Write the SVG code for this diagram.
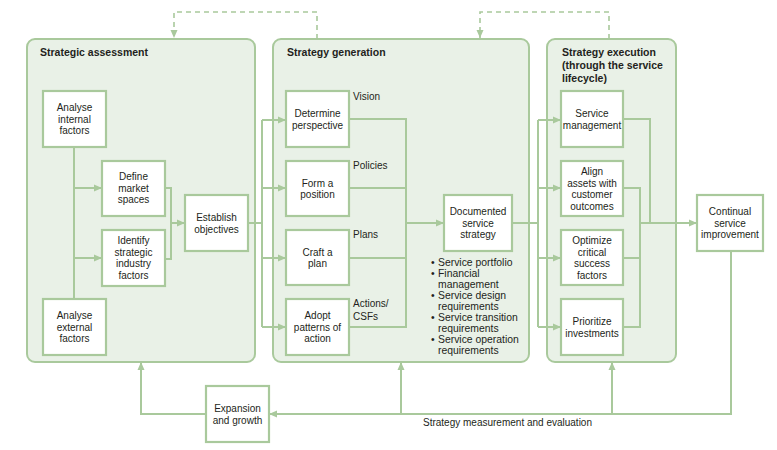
<svg xmlns="http://www.w3.org/2000/svg" width="777" height="450" viewBox="0 0 777 450">
<defs>
<style>
.panel{fill:#e9f1e7;stroke:#a9c99c;stroke-width:2}
.box{fill:#ffffff;stroke:#a9c99c;stroke-width:2.2}
.ln{fill:none;stroke:#a9c99c;stroke-width:2}
.dash{fill:none;stroke:#a9c99c;stroke-width:1.6;stroke-dasharray:5 4}
text{font-family:"Liberation Sans",Arial,sans-serif;font-size:10px;fill:#231f20}
.t{text-anchor:middle}
.b{font-size:10.4px}
.title{font-weight:bold;font-size:10.5px}
</style>
<marker id="ah" viewBox="0 0 8 8" refX="8" refY="4" markerWidth="8" markerHeight="8" markerUnits="userSpaceOnUse" orient="auto">
<path d="M0,0.5 L8,4 L0,7.5 Z" fill="#a9c99c"/>
</marker>
</defs>
<rect width="777" height="450" fill="#ffffff"/>

<g id="panel-assessment">
<rect class="panel" x="27" y="39" width="228" height="323" rx="8"/>
<text class="title" x="40" y="56">Strategic assessment</text>
</g>
<g id="panel-generation">
<rect class="panel" x="273" y="39" width="256" height="323" rx="8"/>
<text class="title" x="287" y="56">Strategy generation</text>
</g>
<g id="panel-execution">
<rect class="panel" x="547" y="39" width="129" height="323" rx="8"/>
<text class="title" x="562" y="56">Strategy execution</text>
<text class="title" x="562" y="69">(through the service</text>
<text class="title" x="562" y="82">lifecycle)</text>
</g>

<g id="connectors">
<path class="dash" d="M317,39 V12 H174 V38" marker-end="url(#ah)"/>
<path class="dash" d="M609,39 V12 H480 V38" marker-end="url(#ah)"/>
<path class="ln" d="M74,147 V299"/>
<path class="ln" d="M74,188 H102" marker-end="url(#ah)"/>
<path class="ln" d="M74,258 H102" marker-end="url(#ah)"/>
<path class="ln" d="M165,188 H171 V259 H165"/>
<path class="ln" d="M171,223 H185" marker-end="url(#ah)"/>
<path class="ln" d="M248,223 H262"/>
<path class="ln" d="M262,120 V327"/>
<path class="ln" d="M262,120 H286" marker-end="url(#ah)"/>
<path class="ln" d="M262,188 H286" marker-end="url(#ah)"/>
<path class="ln" d="M262,258 H286" marker-end="url(#ah)"/>
<path class="ln" d="M262,327 H286" marker-end="url(#ah)"/>
<path class="ln" d="M349,119 H406 V327 H349"/>
<path class="ln" d="M349,188 H406"/>
<path class="ln" d="M349,258 H406"/>
<path class="ln" d="M406,223 H444" marker-end="url(#ah)"/>
<path class="ln" d="M512,223 H538"/>
<path class="ln" d="M538,120 V327"/>
<path class="ln" d="M538,120 H561" marker-end="url(#ah)"/>
<path class="ln" d="M538,188 H561" marker-end="url(#ah)"/>
<path class="ln" d="M538,258 H561" marker-end="url(#ah)"/>
<path class="ln" d="M538,327 H561" marker-end="url(#ah)"/>
<path class="ln" d="M623,119 H650 V223"/>
<path class="ln" d="M623,188 H640 V327 H623"/>
<path class="ln" d="M623,258 H640"/>
<path class="ln" d="M640,223 H697" marker-end="url(#ah)"/>
<path class="ln" d="M731,251 V414 H269" marker-end="url(#ah)"/>
<path class="ln" d="M612,414 V362" marker-end="url(#ah)"/>
<path class="ln" d="M401,414 V362" marker-end="url(#ah)"/>
<path class="ln" d="M206,414 H141 V362" marker-end="url(#ah)"/>
<text x="423" y="426">Strategy measurement and evaluation</text>
</g>

<g id="analyse-internal">
<rect class="box" x="43" y="91" width="63" height="56"/>
<text class="t" x="74.5" y="111">Analyse</text>
<text class="t" x="74.5" y="122.5">internal</text>
<text class="t" x="74.5" y="134">factors</text>
</g>
<g id="define-market">
<rect class="box" x="102" y="161" width="63" height="55"/>
<text class="t" x="133.5" y="180">Define</text>
<text class="t" x="133.5" y="191.5">market</text>
<text class="t" x="133.5" y="203">spaces</text>
</g>
<g id="identify-factors">
<rect class="box" x="102" y="230" width="63" height="56"/>
<text class="t" x="133.5" y="244">Identify</text>
<text class="t" x="133.5" y="255.5">strategic</text>
<text class="t" x="133.5" y="267">industry</text>
<text class="t" x="133.5" y="278.5">factors</text>
</g>
<g id="analyse-external">
<rect class="box" x="43" y="299" width="63" height="56"/>
<text class="t" x="74.5" y="319">Analyse</text>
<text class="t" x="74.5" y="330.5">external</text>
<text class="t" x="74.5" y="342">factors</text>
</g>
<g id="establish-objectives">
<rect class="box" x="185" y="195" width="63" height="56"/>
<text class="t" x="216.5" y="221">Establish</text>
<text class="t" x="216.5" y="232.5">objectives</text>
</g>

<g id="determine-perspective">
<rect class="box" x="286" y="91" width="63" height="56"/>
<text class="t" x="317.5" y="117">Determine</text>
<text class="t" x="317.5" y="128.5">perspective</text>
<text x="353" y="99.5">Vision</text>
</g>
<g id="form-position">
<rect class="box" x="286" y="161" width="63" height="55"/>
<text class="t" x="317.5" y="186.5">Form a</text>
<text class="t" x="317.5" y="198">position</text>
<text x="353" y="168.5">Policies</text>
</g>
<g id="craft-plan">
<rect class="box" x="286" y="230" width="63" height="55"/>
<text class="t" x="317.5" y="255.5">Craft a</text>
<text class="t" x="317.5" y="267">plan</text>
<text x="353" y="237.5">Plans</text>
</g>
<g id="adopt-patterns">
<rect class="box" x="286" y="299" width="63" height="56"/>
<text class="t" x="317.5" y="319">Adopt</text>
<text class="t" x="317.5" y="330.5">patterns of</text>
<text class="t" x="317.5" y="342">action</text>
<text x="353" y="307">Actions/</text>
<text x="353" y="319.5">CSFs</text>
</g>
<g id="documented-strategy">
<rect class="box" x="444" y="195" width="68" height="56"/>
<text class="t" x="478" y="215">Documented</text>
<text class="t" x="478" y="226.5">service</text>
<text class="t" x="478" y="238">strategy</text>
<text class="b" x="431" y="265.5">•</text><text class="b" x="438" y="265.5">Service portfolio</text>
<text class="b" x="431" y="276.5">•</text><text class="b" x="438" y="276.5">Financial</text>
<text class="b" x="438" y="287.5">management</text>
<text class="b" x="431" y="298.5">•</text><text class="b" x="438" y="298.5">Service design</text>
<text class="b" x="438" y="309.5">requirements</text>
<text class="b" x="431" y="320.5">•</text><text class="b" x="438" y="320.5">Service transition</text>
<text class="b" x="438" y="331.5">requirements</text>
<text class="b" x="431" y="342.5">•</text><text class="b" x="438" y="342.5">Service operation</text>
<text class="b" x="438" y="353.5">requirements</text>
</g>

<g id="service-management">
<rect class="box" x="561" y="91" width="62" height="56"/>
<text class="t" x="592" y="117">Service</text>
<text class="t" x="592" y="128.5">management</text>
</g>
<g id="align-assets">
<rect class="box" x="561" y="161" width="62" height="55"/>
<text class="t" x="592" y="175">Align</text>
<text class="t" x="592" y="186.5">assets with</text>
<text class="t" x="592" y="198">customer</text>
<text class="t" x="592" y="209.5">outcomes</text>
</g>
<g id="optimize-csf">
<rect class="box" x="561" y="230" width="62" height="55"/>
<text class="t" x="592" y="244">Optimize</text>
<text class="t" x="592" y="255.5">critical</text>
<text class="t" x="592" y="267">success</text>
<text class="t" x="592" y="278.5">factors</text>
</g>
<g id="prioritize-investments">
<rect class="box" x="561" y="299" width="62" height="56"/>
<text class="t" x="592" y="325">Prioritize</text>
<text class="t" x="592" y="336.5">investments</text>
</g>

<g id="continual-improvement">
<rect class="box" x="697" y="195" width="66" height="56"/>
<text class="t" x="730" y="215">Continual</text>
<text class="t" x="730" y="226.5">service</text>
<text class="t" x="730" y="238">improvement</text>
</g>
<g id="expansion-growth">
<rect class="box" x="206" y="386" width="63" height="56"/>
<text class="t" x="237.5" y="412">Expansion</text>
<text class="t" x="237.5" y="423.5">and growth</text>
</g>
</svg>
